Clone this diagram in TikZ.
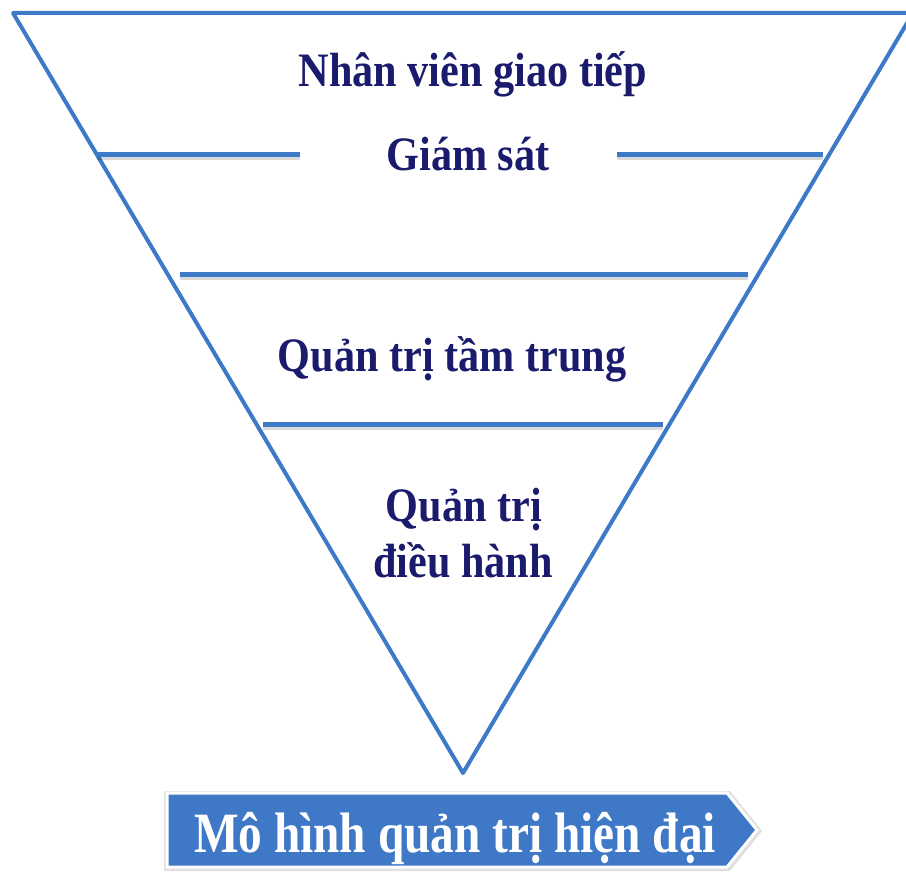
\documentclass[tikz,border=0pt]{standalone}
\usepackage{fontspec}
\setmainfont{Liberation Serif}
\newfontfamily\narrowserif[FakeStretch=0.88]{Liberation Serif}
\newfontfamily\bannerserif[FakeStretch=0.83]{Liberation Serif}
\definecolor{lineblue}{RGB}{60,122,200}
\definecolor{navy}{RGB}{27,27,110}
\definecolor{bannerblue}{RGB}{62,120,199}
\begin{document}
\begin{tikzpicture}[x=1pt,y=-1pt,
  tri/.style={draw=lineblue,line width=4pt,line join=round},
  sep/.style={draw=lineblue,line width=5pt},
  sepshadow/.style={draw=black,opacity=0.15,line width=5pt},
  lbl/.style={text=navy,font=\narrowserif\fontsize{48}{54}\selectfont\bfseries,align=center,inner sep=0pt,anchor=base},
  banner/.style={fill=bannerblue,draw=white,line width=3pt}]
\useasboundingbox (0,0) rectangle (906,874);
% triangle
\coordinate (tl) at (13,13);
\coordinate (tr) at (913,13);
\coordinate (ap) at (463,773);
\draw[tri] (tl) -- (tr) -- (ap) -- cycle;
% separator lines with shadows
\coordinate (a1) at (97,155); \coordinate (a2) at (300,155);
\coordinate (b1) at (617,155); \coordinate (b2) at (823,155);
\coordinate (c1) at (180,275); \coordinate (c2) at (748,275);
\coordinate (d1) at (263,425); \coordinate (d2) at (663,425);
\foreach \p/\q in {a1/a2,b1/b2,c1/c2,d1/d2}{
  \draw[sepshadow] ([yshift=-3pt]\p) -- ([yshift=-3pt]\q);
  \draw[sep] (\p) -- (\q);
}
% labels
\node[lbl] (t1) at (473,87) {Nhân viên giao tiếp};
\node[lbl] (t2) at (468,171) {Giám sát};
\node[lbl] (t3) at (452,372) {Quản trị tầm trung};
\node[lbl] (t4) at (464,522) {Quản trị};
\node[lbl] (t5) at (463,578) {điều hành};
% banner
\fill[black,opacity=0.12] (164,791) -- (730,791) -- (762,831) -- (730,871) -- (164,871) -- cycle;
\path[banner] (167,793) -- (727,793) -- (757,830) -- (727,867) -- (167,867) -- cycle;
\node[text=white,font=\bannerserif\fontsize{57}{62}\selectfont\bfseries,inner sep=0pt,anchor=base] (bt) at (455,852) {Mô hình quản trị hiện đại};
\end{tikzpicture}
\end{document}
